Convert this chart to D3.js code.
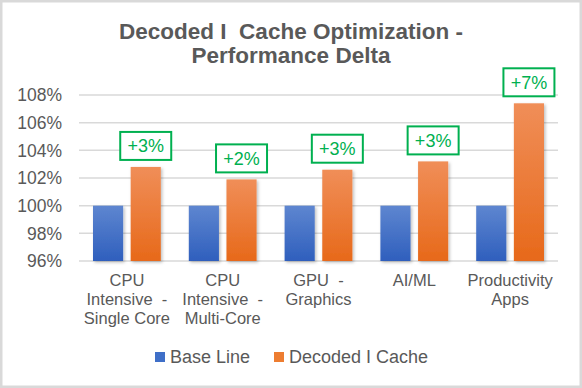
<!DOCTYPE html>
<html>
<head>
<meta charset="utf-8">
<script src="https://cdn.jsdelivr.net/npm/d3@7"></script>
<style>
  body { margin: 0; background: #fff; }
  svg { display: block; font-family: "Liberation Sans", Arial, sans-serif; }
</style>
</head>
<body>
<div id="chart"></div>
<script>
const categories = [
  ["CPU", "Intensive  -", "Single Core"],
  ["CPU", "Intensive  -", "Multi-Core"],
  ["GPU  -", "Graphics"],
  ["AI/ML"],
  ["Productivity", "Apps"]
];
const seriesNames = ["Base Line", "Decoded I Cache"];
const baseLine = [100, 100, 100, 100, 100];
const decoded = [102.8, 101.9, 102.6, 103.2, 107.4];
const deltaLabels = ["+3%", "+2%", "+3%", "+3%", "+7%"];
const yTicks = [96, 98, 100, 102, 104, 106, 108];

const svgWidth = 582, svgHeight = 388;
const margin = { top: 95, right: 24, bottom: 127, left: 79 };
const width = svgWidth - margin.left - margin.right;
const height = svgHeight - margin.top - margin.bottom;

const root = d3.select("#chart").append("svg")
  .attr("width", svgWidth)
  .attr("height", svgHeight);

// gradients
const defs = root.append("defs");
const grads = [["gBlue", "#5E86D0", "#2F5FBD"], ["gOrange", "#F08E58", "#E7691A"]];
grads.forEach(([id, top, bot]) => {
  const g = defs.append("linearGradient").attr("id", id)
    .attr("x1", 0).attr("y1", 0).attr("x2", 0).attr("y2", 1);
  g.append("stop").attr("offset", "0%").attr("stop-color", top);
  g.append("stop").attr("offset", "100%").attr("stop-color", bot);
});
const shadow = defs.append("filter").attr("id", "shadow")
  .attr("x", "-20%").attr("y", "-20%").attr("width", "150%").attr("height", "150%");
shadow.append("feDropShadow").attr("dx", 1.5).attr("dy", 1.5)
  .attr("stdDeviation", 1.5).attr("flood-color", "#000").attr("flood-opacity", 0.25);

// border
root.append("rect")
  .attr("x", 1.25).attr("y", 1.25)
  .attr("width", svgWidth - 2.5).attr("height", svgHeight - 2.5)
  .attr("fill", "#fff").attr("stroke", "#d9d9d9").attr("stroke-width", 2.5);

// title
const title = root.append("text")
  .attr("text-anchor", "middle")
  .attr("xml:space", "preserve")
  .attr("font-size", 22.5).attr("font-weight", "bold").attr("fill", "#595959");
title.append("tspan").attr("x", svgWidth / 2).attr("y", 39).text("Decoded I  Cache Optimization -");
title.append("tspan").attr("x", svgWidth / 2).attr("y", 63).text("Performance Delta");

const svg = root.append("g")
  .attr("transform", `translate(${margin.left},${margin.top})`);

const x0 = d3.scaleBand().domain(d3.range(categories.length)).range([0, width]);
const x1 = d3.scaleBand().domain([0, 1]).range([14, x0.bandwidth() - 14]).paddingInner(0.2);
const y = d3.scaleLinear().domain([96, 108]).range([height, 0]);

// gridlines
svg.selectAll(".grid")
  .data(yTicks)
  .enter().append("line")
  .attr("x1", 0).attr("x2", width)
  .attr("y1", d => y(d)).attr("y2", d => y(d))
  .attr("stroke", "#d9d9d9").attr("stroke-width", 1.5);

// y axis labels
svg.selectAll(".ylab")
  .data(yTicks)
  .enter().append("text")
  .attr("x", -17).attr("y", d => y(d))
  .attr("dy", "0.36em")
  .attr("text-anchor", "end")
  .attr("font-size", 17.5).attr("fill", "#595959")
  .text(d => d + "%");

// bars
const series = [baseLine, decoded];
series.forEach((vals, s) => {
  svg.selectAll(".bar" + s)
    .data(vals)
    .enter().append("rect")
    .attr("x", (d, i) => x0(i) + x1(s))
    .attr("y", d => y(d))
    .attr("width", x1.bandwidth())
    .attr("height", d => height - y(d))
    .attr("fill", s === 0 ? "url(#gBlue)" : "url(#gOrange)")
    .attr("filter", "url(#shadow)");
});

// delta labels
const boxW = 51, boxH = 28;
const lab = svg.selectAll(".delta")
  .data(decoded)
  .enter().append("g")
  .attr("transform", (d, i) => `translate(${x0(i) + x1(1) + x1.bandwidth() / 2},${y(d) - 7 - boxH / 2})`);
lab.append("rect")
  .attr("x", -boxW / 2).attr("y", -boxH / 2)
  .attr("width", boxW).attr("height", boxH)
  .attr("fill", "#fff").attr("stroke", "#00B050").attr("stroke-width", 2);
lab.append("text")
  .attr("text-anchor", "middle").attr("dy", "0.36em")
  .attr("font-size", 18).attr("fill", "#00B050")
  .text((d, i) => deltaLabels[i]);

// x labels
const xl = svg.selectAll(".xlab")
  .data(categories)
  .enter().append("text")
  .attr("text-anchor", "middle")
  .attr("xml:space", "preserve")
  .attr("font-size", 16.5).attr("fill", "#595959");
xl.each(function(lines, i) {
  const t = d3.select(this);
  lines.forEach((ln, j) => {
    t.append("tspan")
      .attr("x", x0(i) + x0.bandwidth() / 2)
      .attr("y", height + 25 + j * 19)
      .text(ln);
  });
});

// legend
const legend = root.append("g").attr("transform", "translate(155,357)");
const legX = [0, 119];
seriesNames.forEach((n, i) => {
  legend.append("rect")
    .attr("x", legX[i]).attr("y", -5)
    .attr("width", 10).attr("height", 10)
    .attr("fill", i === 0 ? "#3F6FC8" : "#ED7D31");
  legend.append("text")
    .attr("x", legX[i] + 15).attr("y", 0).attr("dy", "0.36em")
    .attr("font-size", 18).attr("fill", "#595959")
    .text(n);
});
</script>
</body>
</html>
